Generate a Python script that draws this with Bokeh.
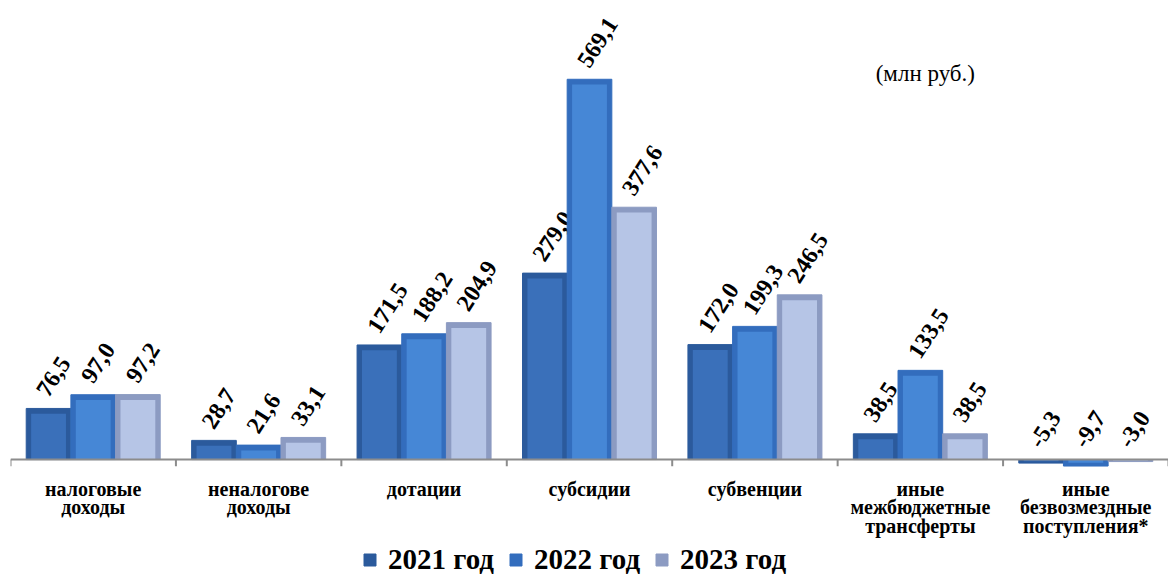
from bokeh.plotting import figure
from bokeh.models import (ColumnDataSource, Span, Legend, LegendItem, Label, Range1d)
from bokeh.core.properties import value
from bokeh.embed import file_html
from bokeh.resources import INLINE

categories = ["налоговые\nдоходы", "неналогове\nдоходы", "дотации", "субсидии",
              "субвенции", "иные\nмежбюджетные\nтрансферты",
              "иные\nбезвозмездные\nпоступления*"]
series_names = ["2021 год", "2022 год", "2023 год"]
v2021 = [76.5, 28.7, 171.5, 279.0, 172.0, 38.5, -5.3]
v2022 = [97.0, 21.6, 188.2, 569.1, 199.3, 133.5, -9.7]
v2023 = [97.2, 33.1, 204.9, 377.6, 246.5, 38.5, -3.0]
side_colors = ["#2B5A9C", "#336DBD", "#8C9BC2"]
face_colors = ["#3A70BA", "#4687D6", "#B6C5E6"]
unit_text = "(млн руб.)"

FONT = "Liberation Serif"

p = figure(frame_width=1158, frame_height=568, output_backend="svg", toolbar_location=None,
           x_range=Range1d(-0.5, 6.5), y_range=Range1d(-175, 675),
           x_axis_location=None, y_axis_location=None,
           min_border_left=10, min_border_right=0, min_border_top=8,
           min_border_bottom=0, outline_line_color=None)
p.xgrid.visible = False
p.ygrid.visible = False
p.background_fill_color = "white"
p.border_fill_color = "white"

bar_w = 0.27
n = len(categories)
items = []
for k, vals in enumerate([v2021, v2022, v2023]):
    xs = [i + (k - 1) * bar_w for i in range(n)]
    labels = [("%.1f" % v).replace(".", ",") for v in vals]
    ly = [max(v, 0) for v in vals]
    inner = [v - 8 if v > 16 else v * 0.5 for v in vals]
    src = ColumnDataSource(dict(x=xs, top=vals, inner=inner, lab=labels, ly=ly))
    r = p.vbar(x="x", top="top", bottom=0, width=bar_w, source=src,
               fill_color=side_colors[k], line_color=side_colors[k], line_width=1)
    p.vbar(x="x", top="inner", bottom=0, width=bar_w * 0.78, source=src,
           fill_color=face_colors[k], line_color=None)
    p.text(x="x", y="ly", text="lab", source=src, angle=57, angle_units="deg",
           text_align="left", text_baseline="bottom", x_offset=0, y_offset=-10,
           text_font=value(FONT), text_font_style="bold", text_font_size="24px",
           text_color="black")
    items.append(LegendItem(label=series_names[k], renderers=[r]))

# zero line and category boundary ticks
zero = Span(location=0, dimension="width", line_color="#8C8C8C", line_width=2)
p.add_layout(zero)
bounds = [i - 0.5 for i in range(n + 1)]
p.segment(x0=bounds, y0=[0] * len(bounds), x1=bounds, y1=[-10] * len(bounds),
          line_color="#8C8C8C", line_width=2)

# category labels under the axis line
cat_src = ColumnDataSource(dict(x=list(range(n)), y=[0] * n, t=categories))
p.text(x="x", y="y", text="t", source=cat_src, text_align="center",
       text_baseline="top", y_offset=18, text_font=value(FONT),
       text_font_style="bold", text_font_size="20px", text_line_height=0.85,
       text_color="black")

legend = Legend(items=items, orientation="horizontal", location=(352, 0),
                label_text_font=FONT, label_text_font_style="bold",
                label_text_font_size="29px", label_text_color="black",
                glyph_width=15, glyph_height=15,
                spacing=14, border_line_color=None, background_fill_alpha=0,
                padding=0, margin=0, label_standoff=11)
p.add_layout(legend, "center")

p.add_layout(Label(x=4.73, y=578, text=unit_text, text_font=FONT,
                   text_font_size="23px", text_baseline="middle", text_color="black"))

open("out.html", "w").write(file_html(p, INLINE))
